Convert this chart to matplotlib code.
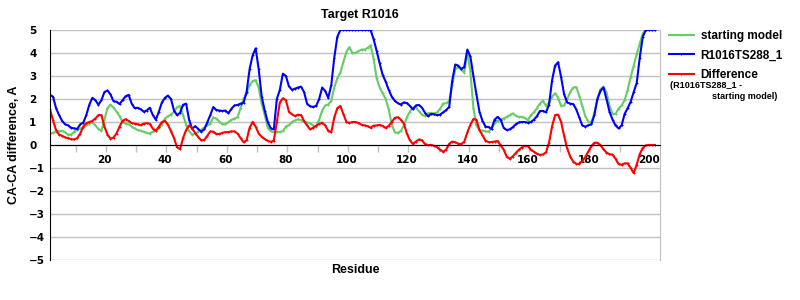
import matplotlib
matplotlib.use("Agg")
import matplotlib.pyplot as plt
import numpy as np

residues = list(range(2, 203))

starting_model = [
    0.5, 0.53, 0.58, 0.6, 0.62, 0.55, 0.45, 0.45, 0.58, 0.66,
    0.72, 0.75, 0.85, 0.92, 0.98, 0.85, 0.7, 0.62, 1.1, 1.6,
    1.76, 1.62, 1.45, 1.25, 1.0, 0.93, 0.9, 0.8, 0.72, 0.65,
    0.62, 0.58, 0.53, 0.5, 0.58, 0.62, 0.72, 0.88, 1.15, 1.25,
    1.32, 1.45, 1.64, 1.7, 1.3, 0.88, 0.6, 0.45, 0.48, 0.58,
    0.66, 0.76, 0.85, 0.93, 1.2, 1.15, 1.02, 0.9, 0.9, 1.0,
    1.1, 1.15, 1.2, 1.6, 2.0, 2.25, 2.6, 2.78, 2.82, 2.5,
    1.8, 1.3, 0.75, 0.6, 0.56, 0.55, 0.57, 0.6, 0.8, 0.87,
    1.0, 1.07, 1.12, 1.08, 1.02, 0.98, 0.94, 0.85, 0.8, 1.1,
    1.5, 1.72, 1.76, 1.92, 2.5, 2.9, 3.15, 3.6, 4.05, 4.25,
    4.0, 4.0, 4.08, 4.15, 4.15, 4.22, 4.33, 3.75, 2.9, 2.5,
    2.25, 2.0, 1.55, 0.9, 0.55, 0.53, 0.6, 0.85, 1.2, 1.45,
    1.63, 1.64, 1.46, 1.32, 1.27, 1.38, 1.4, 1.37, 1.42, 1.58,
    1.8, 1.82, 1.9, 2.6, 3.3, 3.4, 3.28, 3.15, 4.05, 3.2,
    1.6, 0.85, 0.65, 0.63, 0.59, 0.58, 0.7, 0.95, 1.05, 1.1,
    1.15, 1.22, 1.3, 1.37, 1.28, 1.22, 1.22, 1.18, 1.08, 1.3,
    1.42, 1.6, 1.8, 1.92, 1.7, 1.85, 2.1, 2.25, 2.05, 1.7,
    1.72, 2.0, 2.3, 2.5, 2.52, 2.15, 1.7, 1.25, 1.02, 0.98,
    1.4, 2.0, 2.42, 2.54, 2.3, 1.7, 1.35, 1.35, 1.58, 1.72,
    1.95, 2.4, 2.95, 3.45, 3.95, 4.4, 4.85, 5, 5, 5, 5,
]

model_ts288 = [
    2.18, 2.1, 1.6, 1.3, 1.05, 0.9, 0.85, 0.75, 0.72, 0.7,
    0.9, 0.97, 1.3, 1.75, 2.05, 1.95, 1.75, 1.95, 2.3, 2.37,
    2.2, 1.9, 1.88, 1.78, 1.95, 2.12, 2.18, 1.8, 1.6, 1.62,
    1.55, 1.45, 1.5, 1.62, 1.3, 1.1, 1.45, 1.85, 2.05, 2.15,
    2.0, 1.5, 1.3, 1.4, 1.75, 1.8, 1.1, 0.7, 0.82, 0.7,
    0.58, 0.68, 0.98, 1.3, 1.65, 1.52, 1.5, 1.48, 1.5, 1.38,
    1.58, 1.72, 1.74, 1.8, 1.84, 2.3, 3.3, 3.9, 4.2, 3.3,
    2.1, 1.5, 1.0, 0.72, 0.68, 2.0, 2.4, 3.1, 3.0, 2.55,
    2.4, 2.45, 2.5, 2.54, 2.3, 1.8, 1.68, 1.66, 1.7, 2.0,
    2.5, 2.35, 2.05, 2.6, 3.8, 4.7, 5, 5, 5, 5,
    5, 5, 5, 5, 5, 5, 5, 4.6, 4.1, 3.55,
    3.05, 2.75, 2.4, 2.1, 1.92, 1.82, 1.76, 1.85, 1.82, 1.7,
    1.55, 1.72, 1.74, 1.62, 1.4, 1.25, 1.35, 1.33, 1.3, 1.32,
    1.42, 1.52, 1.66, 2.8, 3.5, 3.45, 3.3, 3.4, 4.15, 3.85,
    3.0, 2.2, 1.45, 1.05, 0.8, 0.78, 0.7, 1.1, 1.22, 1.1,
    0.75, 0.65, 0.68, 0.77, 0.9, 0.98, 1.0, 1.0, 0.97, 1.0,
    1.1, 1.25, 1.48, 1.48, 1.42, 1.75, 2.8, 3.45, 3.6, 2.95,
    2.2, 1.85, 1.8, 1.78, 1.55, 1.2, 0.85, 0.8, 0.86, 0.9,
    1.3, 2.0, 2.35, 2.5, 2.0, 1.45, 1.1, 0.85, 0.72, 0.85,
    1.35, 1.6, 1.88, 2.3, 2.7, 3.8, 4.7, 5, 5, 5, 5,
]

difference = [
    1.55, 1.07, 0.65, 0.45, 0.4, 0.33, 0.3, 0.25, 0.24, 0.3,
    0.5, 0.8, 0.95, 1.0, 1.05, 1.15, 1.3, 1.3, 0.8, 0.45,
    0.28, 0.32, 0.5, 0.8, 1.05, 1.12, 1.05, 0.95, 0.93, 0.9,
    0.86, 0.93, 0.95, 0.92, 0.71, 0.62, 0.8, 1.0, 1.05, 0.88,
    0.6, 0.3, -0.1, -0.18, 0.3, 0.65, 0.85, 0.72, 0.52, 0.35,
    0.2, 0.22, 0.4, 0.59, 0.58, 0.48, 0.48, 0.53, 0.56, 0.56,
    0.59, 0.59, 0.5, 0.3, 0.12, 0.2, 0.75, 1.0, 0.8, 0.5,
    0.35, 0.26, 0.18, 0.14, 0.19, 1.0, 1.85, 2.03, 1.95, 1.45,
    1.33, 1.26, 1.32, 1.3, 1.05, 0.85, 0.68, 0.75, 0.84, 0.92,
    0.97, 0.85, 0.62, 0.55, 1.2, 1.6, 1.7, 1.35, 1.0, 0.96,
    1.0, 1.0, 0.96, 0.88, 0.85, 0.82, 0.75, 0.84, 0.85, 0.87,
    0.83, 0.74, 0.83, 1.0, 1.18, 1.21, 1.1, 0.93, 0.5, 0.2,
    0.05, 0.15, 0.24, 0.2, 0.04, 0.0, 0.0, -0.03, -0.1, -0.2,
    -0.3, -0.2, 0.05, 0.15, 0.12, 0.06, 0.04, 0.15, 0.55, 0.88,
    1.13, 1.1, 0.65, 0.42, 0.19, 0.12, 0.13, 0.15, 0.17, -0.01,
    -0.2, -0.5, -0.6, -0.5, -0.35, -0.21, -0.11, -0.04, -0.05, -0.2,
    -0.29, -0.38, -0.43, -0.41, -0.32, 0.1, 0.8, 1.3, 1.32, 1.0,
    0.4, -0.15, -0.5, -0.72, -0.82, -0.82, -0.7, -0.52, -0.28, -0.05,
    0.1, 0.1, 0.0, -0.18, -0.33, -0.4, -0.42, -0.6, -0.83, -0.86,
    -0.8, -0.8, -1.0, -1.22, -0.85, -0.4, -0.12, -0.02, 0.0, 0.0, 0.0,
]

x_labels = list(range(20, 201, 20))
y_ticks = list(range(-5, 6))

sans = 'Liberation Sans'

fig = plt.figure(figsize=(8, 3), dpi=100)
ax = fig.add_axes([50 / 800, 40 / 300, 610 / 800, 230 / 300])

style = dict(linewidth=1.5, marker='+', markersize=2, markeredgewidth=0.7)
ax.plot(residues, starting_model, color='#66cc66', label='starting model', **style)
ax.plot(residues, model_ts288, color='#0000ff', label='R1016TS288_1', **style)
ax.plot(residues, difference, color='#ff0000', label='Difference', **style)

ax.set_xlim(2, 203.7)
ax.set_ylim(-5, 5)

ax.set_yticks(y_ticks)
ax.yaxis.grid(True, color='#c0c0c0', linewidth=1)
ax.set_axisbelow(True)
ax.tick_params(axis='y', length=0, pad=15, labelsize=7.5)
for t in ax.get_yticklabels():
    t.set_fontweight('bold')
    t.set_horizontalalignment('left')

# x axis sits on the zero line, labels every 20, tick marks every 10
ax.spines['bottom'].set_position(('data', 0))
ax.spines['bottom'].set_color('black')
ax.spines['left'].set_color('black')
ax.spines['top'].set_visible(False)
ax.spines['right'].set_color('#c0c0c0')
ax.set_xticks(x_labels)
ax.set_xticks(np.arange(10.5, 200, 10), minor=True)
ax.tick_params(axis='x', which='major', length=0, pad=7, labelsize=7.5)
ax.tick_params(axis='x', which='minor', length=5, width=1, color='#c0c0c0', direction='out')
for t in ax.get_xticklabels():
    t.set_fontweight('bold')

fig.text(360 / 800, 1 - 15 / 300, 'Target R1016', family=sans,
         fontsize=9, fontweight='bold', ha='center', va='center')
fig.text(14 / 800, 1 - 145 / 300, 'CA-CA difference, A', family=sans,
         fontsize=9, fontweight='bold', rotation=90, ha='center', va='center')
fig.text(355 / 800, 1 - 270 / 300, 'Residue', family=sans,
         fontsize=9, fontweight='bold', ha='center', va='center')

leg = fig.legend(loc='upper left', bbox_to_anchor=(664 / 800, 1 - 25 / 300),
                 frameon=False, handlelength=2.1, handletextpad=0.6,
                 labelspacing=0.65, borderaxespad=0,
                 prop={'family': sans, 'weight': 'bold', 'size': 8.5})
fig.text(670 / 800, 1 - 86 / 300, '(R1016TS288_1 -', family=sans,
         fontsize=6.5, fontweight='bold', ha='left', va='center')
fig.text(777 / 800, 1 - 97 / 300, 'starting model)', family=sans,
         fontsize=6.5, fontweight='bold', ha='right', va='center')

fig.savefig('out.png', dpi=100)
